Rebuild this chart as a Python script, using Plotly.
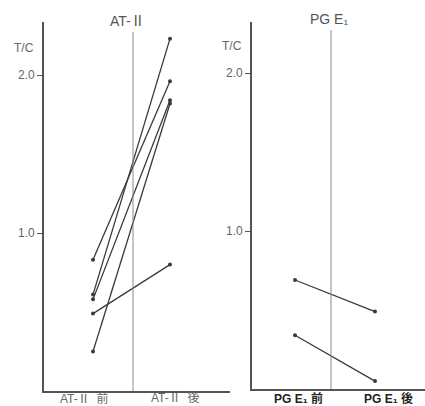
import plotly.graph_objects as go

# Data
at_before = [0.83, 0.61, 0.58, 0.25, 0.49]
at_after = [1.96, 2.23, 1.84, 1.82, 0.80]
pg_before = [0.69, 0.34]
pg_after = [0.49, 0.05]
x_pos = [0, 1]
at_labels = ["AT-Ⅱ  前", "AT-Ⅱ  後"]
pg_labels = ["PG E₁ 前", "PG E₁ 後"]
y_ticks = [1.0, 2.0]
y_ticktext = ["1.0", "2.0"]

W, H = 425, 406
def px(v):  # horizontal pixel -> paper
    return v / W
def py(v):  # vertical pixel -> paper
    return 1 - v / H

LINE = "#3a3a3a"
AX = "#555555"
TXT = "#666666"
FONT = "Liberation Sans, Arial, Noto Sans CJK JP"

fig = go.Figure()
for b, a in zip(at_before, at_after):
    fig.add_trace(go.Scatter(x=x_pos, y=[b, a], mode="lines+markers", xaxis="x", yaxis="y",
                             line=dict(color=LINE, width=1.3), marker=dict(size=4, color=LINE),
                             showlegend=False, hoverinfo="skip"))
for b, a in zip(pg_before, pg_after):
    fig.add_trace(go.Scatter(x=x_pos, y=[b, a], mode="lines+markers", xaxis="x2", yaxis="y2",
                             line=dict(color=LINE, width=1.3), marker=dict(size=4, color=LINE),
                             showlegend=False, hoverinfo="skip"))

y_top_l = (391 - 22) / 158
y_top_r = (389 - 22) / 158
yax = dict(tickvals=y_ticks, ticktext=y_ticktext, ticks="outside", ticklen=5, tickcolor=AX,
           showline=True, linecolor=AX, linewidth=1.6, showgrid=False, zeroline=False,
           tickfont=dict(family=FONT, size=12, color=TXT))
xax = dict(showticklabels=False, ticks="", showline=True, linecolor=AX, linewidth=1.6,
           showgrid=False, zeroline=False)

fig.update_layout(
    width=W, height=H, margin=dict(l=0, r=0, t=0, b=0),
    paper_bgcolor="white", plot_bgcolor="white",
    xaxis=dict(xax, domain=[px(44), px(230)], range=[(44 - 93) / 77, (230 - 93) / 77]),
    yaxis=dict(yax, domain=[py(391), py(22)], range=[0, y_top_l], anchor="x"),
    xaxis2=dict(xax, domain=[px(252), 1.0], range=[(252 - 295) / 80, (425 - 295) / 80], anchor="y2"),
    yaxis2=dict(yax, domain=[py(389), py(22)], range=[0, y_top_r], anchor="x2"),
)

fig.add_shape(type="line", xref="x", yref="y", x0=(133 - 93) / 77, x1=(133 - 93) / 77,
              y0=0, y1=(391 - 32) / 158, line=dict(color="#8a8a8a", width=1))
fig.add_shape(type="line", xref="x2", yref="y2", x0=(331 - 295) / 80, x1=(331 - 295) / 80,
              y0=0, y1=(389 - 30) / 158, line=dict(color="#8a8a8a", width=1))

def note(text, x, y, size, color):
    return dict(text=text, x=px(x), y=py(y), xref="paper", yref="paper",
                xanchor="center", yanchor="middle", showarrow=False,
                font=dict(family=FONT, size=size, color=color))

ann = [
    note("AT-Ⅱ", 128, 21, 14, "#555555"),
    note("PG E₁", 329, 19, 14, "#555555"),
    note("T/C", 24, 48, 12, TXT),
    note("T/C", 232, 46, 12, TXT),
]
for xp, lab in zip([84, 175], at_labels):
    ann.append(note(lab, xp, 398, 12, TXT))
for xp, lab in zip([298, 388], pg_labels):
    ann.append(note("<b>" + lab + "</b>", xp, 398, 12, "#222222"))
fig.update_layout(annotations=ann)

fig.write_html("out.html", config={"displayModeBar": False},
               post_script="document.body.style.margin='0';")
